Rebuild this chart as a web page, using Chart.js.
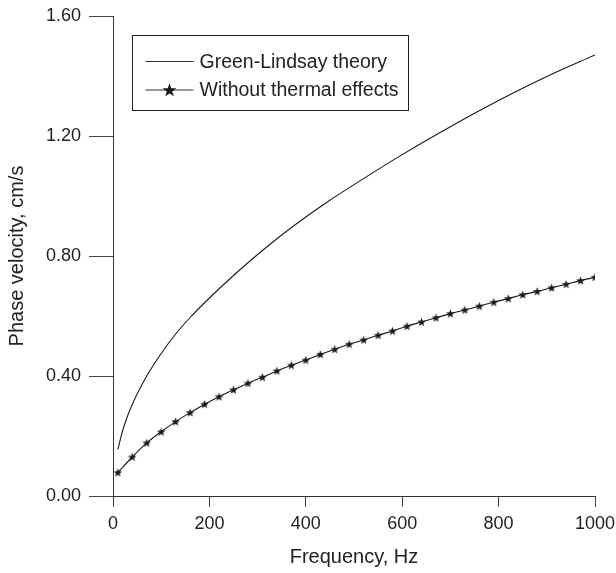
<!DOCTYPE html>
<html>
<head>
<meta charset="utf-8">
<script src="https://cdn.jsdelivr.net/npm/chart.js@4"></script>
<style>
  html, body { margin: 0; padding: 0; background: #fff; }
  #wrap { width: 616px; height: 573px; }
</style>
</head>
<body>
<div id="wrap"><canvas id="c" width="616" height="573"></canvas></div>
<script>
// Green-Lindsay theory: phase velocity (cm/s) against frequency (Hz)
const glFreq     = [10, 20, 30, 40, 50, 70, 100, 130, 160, 200, 250, 300, 350, 400, 450, 500,
                    600, 700, 800, 900, 1000];
const glVelocity = [0.155, 0.218, 0.266, 0.305, 0.340, 0.400, 0.475, 0.540, 0.595, 0.660, 0.735,
                    0.805, 0.870, 0.930, 0.986, 1.038, 1.138, 1.231, 1.318, 1.398, 1.470];

// Without thermal effects: sampled every 30 Hz
const ntFreq = [10, 40, 70, 100, 130, 160, 190, 220, 250, 280, 310, 340, 370, 400, 430, 460, 490,
                520, 550, 580, 610, 640, 670, 700, 730, 760, 790, 820, 850, 880, 910, 940, 970, 1000];
const ntVelocity = [0.078, 0.130, 0.177, 0.214, 0.248, 0.278, 0.306, 0.331, 0.354, 0.376, 0.396, 0.417,
                    0.436, 0.453, 0.472, 0.489, 0.506, 0.520, 0.536, 0.550, 0.566, 0.580, 0.594, 0.608,
                    0.620, 0.633, 0.646, 0.658, 0.671, 0.682, 0.694, 0.706, 0.718, 0.729];

const xTicks = [0, 200, 400, 600, 800, 1000];
const yTicks = [0.0, 0.4, 0.8, 1.2, 1.6];
const seriesNames = ['Green-Lindsay theory', 'Without thermal effects'];
const xTitle = 'Frequency, Hz';
const yTitle = 'Phase velocity, cm/s';

const FONT = '"Liberation Sans", Arial, Helvetica, sans-serif';
const INK = '#1a1a1a';

// filled five-pointed star
function drawStar(ctx, cx, cy, rOut, rIn) {
  ctx.beginPath();
  for (let i = 0; i < 10; i++) {
    const r = i % 2 === 0 ? rOut : rIn;
    const a = -Math.PI / 2 + i * Math.PI / 5;
    const px = cx + r * Math.cos(a), py = cy + r * Math.sin(a);
    if (i === 0) ctx.moveTo(px, py); else ctx.lineTo(px, py);
  }
  ctx.closePath();
  ctx.fill();
}

function starImage(size, rOut, rIn) {
  const cv = document.createElement('canvas');
  cv.width = size; cv.height = size;
  const g = cv.getContext('2d');
  g.fillStyle = INK;
  drawStar(g, size / 2, size / 2 + 0.4, rOut, rIn);
  return cv;
}
const plotStar = starImage(11, 4.6, 1.9);

// boxed legend in the upper-left of the plot area
const legendBox = {
  id: 'legendBox',
  afterDatasetsDraw(chart) {
    const { ctx, chartArea } = chart;
    const x0 = Math.round(chartArea.left + 19) + 0.5;
    const y0 = Math.round(chartArea.top + 19) + 0.5;
    const w = 276, h = 75;
    ctx.save();
    ctx.fillStyle = '#fff';
    ctx.fillRect(x0, y0, w, h);
    ctx.strokeStyle = '#222';
    ctx.lineWidth = 1;
    ctx.strokeRect(x0, y0, w, h);

    const rows = [y0 + 26, y0 + 54.5];
    const lx1 = x0 + 13, lx2 = x0 + 61;
    ctx.strokeStyle = '#333';
    rows.forEach((ry) => {
      ctx.beginPath();
      ctx.moveTo(lx1, ry);
      ctx.lineTo(lx2, ry);
      ctx.stroke();
    });
    ctx.fillStyle = INK;
    drawStar(ctx, (lx1 + lx2) / 2, rows[1] + 0.5, 7.2, 2.9);

    ctx.font = '19.5px ' + FONT;
    ctx.textBaseline = 'middle';
    ctx.textAlign = 'left';
    ctx.fillStyle = '#222';
    seriesNames.forEach((name, i) => ctx.fillText(name, x0 + 67, rows[i] + 1));
    ctx.restore();
  }
};

new Chart(document.getElementById('c'), {
  type: 'line',
  data: {
    datasets: [
      {
        label: seriesNames[0],
        data: glFreq.map((f, i) => ({ x: f, y: glVelocity[i] })),
        borderColor: INK,
        borderWidth: 1.1,
        pointRadius: 0,
        cubicInterpolationMode: 'monotone',
        fill: false
      },
      {
        label: seriesNames[1],
        data: ntFreq.map((f, i) => ({ x: f, y: ntVelocity[i] })),
        borderColor: INK,
        borderWidth: 1.1,
        pointStyle: plotStar,
        pointRadius: 5,
        cubicInterpolationMode: 'monotone',
        fill: false
      }
    ]
  },
  options: {
    responsive: false,
    animation: false,
    devicePixelRatio: 1,
    layout: { padding: { top: 16, right: 21, left: 0, bottom: 0 } },
    plugins: {
      legend: { display: false },
      tooltip: { enabled: false }
    },
    scales: {
      x: {
        type: 'linear',
        min: 0,
        max: 1000,
        afterBuildTicks: (s) => { s.ticks = xTicks.map((v) => ({ value: v })); },
        afterFit: (s) => {
          s.height = 77;
          // end labels may overhang into the page margin
          s.paddingLeft = 0;
          s.paddingRight = 0;
        },
        ticks: {
          font: { family: FONT, size: 18 },
          color: '#222',
          padding: 6,
          maxRotation: 0,
          autoSkip: false,
          callback: (v) => String(v)
        },
        grid: {
          drawOnChartArea: false,
          drawTicks: true,
          tickLength: 11,
          color: '#444',
          lineWidth: 1
        },
        border: { display: true, color: '#333', width: 1 },
        title: {
          display: true,
          text: xTitle,
          color: '#222',
          font: { family: FONT, size: 20 },
          padding: { top: 4, bottom: 4 }
        }
      },
      y: {
        type: 'linear',
        min: 0,
        max: 1.6,
        afterBuildTicks: (s) => { s.ticks = yTicks.map((v) => ({ value: v })); },
        afterFit: (s) => {
          s.width = 113;
          s.paddingTop = 0;
          s.paddingBottom = 0;
        },
        ticks: {
          font: { family: FONT, size: 18 },
          color: '#222',
          padding: 8,
          autoSkip: false,
          callback: (v) => Number(v).toFixed(2)
        },
        grid: {
          drawOnChartArea: false,
          drawTicks: true,
          tickLength: 24,
          color: '#444',
          lineWidth: 1
        },
        border: { display: true, color: '#333', width: 1 },
        title: {
          display: true,
          text: yTitle,
          color: '#222',
          font: { family: FONT, size: 20 },
          padding: { top: 5, bottom: 4 }
        }
      }
    }
  },
  plugins: [legendBox]
});
</script>
</body>
</html>
